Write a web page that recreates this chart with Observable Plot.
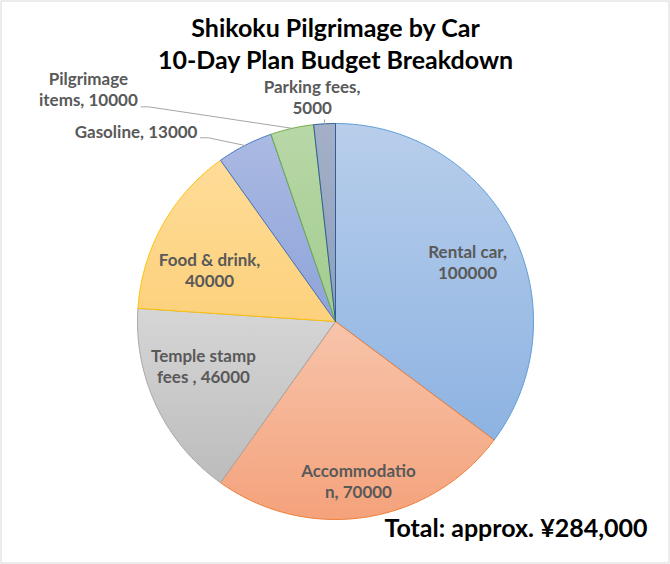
<!DOCTYPE html>
<html>
<head>
<meta charset="utf-8">
<script src="https://cdn.jsdelivr.net/npm/d3@7"></script>
<script src="https://cdn.jsdelivr.net/npm/@observablehq/plot@0.6"></script>
<style>
  html, body { margin: 0; padding: 0; background: #fff; }
  #chart svg { display: block; }
</style>
</head>
<body>
<div id="chart"></div>
<script>
// ---- data ----
const categories = ["Rental car", "Accommodation", "Temple stamp fees ", "Food & drink", "Gasoline", "Pilgrimage items", "Parking fees"];
const values = [100000, 70000, 46000, 40000, 13000, 10000, 5000];
const titleLines = ["Shikoku Pilgrimage by Car", "10-Day Plan Budget Breakdown"];
const totalText = "Total: approx. ¥284,000";

// ---- styles ----
const strokeColors = ["#5b9bd5", "#ed7d31", "#a5a5a5", "#ffc000", "#4472c4", "#70ad47", "#2f5f95"];
const gradTop =      ["#b8ceeb", "#f7c4ab", "#d6d6d6", "#fedc98", "#abbae3", "#b8d8a7", "#a4b0c8"];
const gradBottom =   ["#8db3e2", "#f4a27b", "#bcbcbc", "#fdd17c", "#8ea3d9", "#a3cb8f", "#8d9ebd"];
const breakAt =      [11, 12, 12, 13, null, 10, 13];
// label anchors (last-line baseline) in pie units (radius = 1)
const labelLayout = [
  {x: 0.667, y: -0.217, anchor: "middle"},
  {x: 0.116, y: 0.889, anchor: "middle"},
  {x: -0.667, y: 0.313, anchor: "middle"},
  {x: -0.636, y: -0.173, anchor: "middle"},
  {x: -0.697, y: -0.928, anchor: "end", leader: "elbow"},
  {x: -1.248, y: -1.086, anchor: "middle", leader: "elbow", leaderStart: [-0.982, -1.084]},
  {x: -0.118, y: -1.049, anchor: "middle", leader: "tick"}
];

const cx = 335, cy = 321, R = 198;
const font = "Lato, 'Open Sans', sans-serif";

const data = categories.map((c, i) => ({name: c, value: values[i], i}));
const arcs = d3.pie().sort(null).value(d => d.value).startAngle(0).endAngle(2 * Math.PI)(data);

function wrap(s, k) {
  if (k == null) return s;
  return s.slice(0, k).trimEnd() + "\n" + s.slice(k).trimStart();
}

const sliceMarks = arcs.map((a, i) => {
  const n = Math.max(2, Math.ceil((a.endAngle - a.startAngle) / (Math.PI / 360)));
  const pts = [{x: 0, y: 0}];
  for (let j = 0; j <= n; j++) {
    const t = a.startAngle + (a.endAngle - a.startAngle) * j / n;
    pts.push({x: Math.sin(t), y: -Math.cos(t)});
  }
  pts.push({x: 0, y: 0});
  return Plot.line(pts, {x: "x", y: "y", fill: `url(#grad${i})`, stroke: strokeColors[i], strokeWidth: 1, strokeLinejoin: "round"});
});

const labels = arcs.map((a, i) => ({
  text: wrap(`${a.data.name}, ${a.data.value}`, breakAt[i]),
  x: labelLayout[i].x, y: labelLayout[i].y, anchor: labelLayout[i].anchor
}));

// leader lines
const leaders = [];
arcs.forEach((a, i) => {
  const L = labelLayout[i];
  if (!L.leader) return;
  const mid = (a.startAngle + a.endAngle) / 2;
  const edge = {x: Math.sin(mid), y: -Math.cos(mid)};
  if (L.leader === "tick") {
    leaders.push({k: i, x: edge.x, y: edge.y - 0.02});
    leaders.push({k: i, x: edge.x, y: edge.y});
  } else {
    const sx = L.leaderStart ? L.leaderStart[0] : L.x + 0.015;
    const sy = L.leaderStart ? L.leaderStart[1] : L.y;
    leaders.push({k: i, x: sx, y: sy});
    leaders.push({k: i, x: sx + 0.04, y: sy});
    leaders.push({k: i, x: edge.x, y: edge.y});
  }
});

const textMarks = ["middle", "end"].map(anc => Plot.text(labels.filter(d => d.anchor === anc), {
  x: "x", y: "y", text: "text", textAnchor: anc, lineAnchor: "bottom", lineHeight: 1.235,
  fontSize: 17, fontWeight: "bold", fill: "#595959", fontFamily: font
}));

const svg = Plot.plot({
  width: 670,
  height: 564,
  margin: 0,
  style: {background: "#fff", fontFamily: font},
  x: {domain: [-1, 1], range: [cx - R, cx + R], axis: null},
  y: {domain: [-1, 1], range: [cy - R, cy + R], axis: null},
  marks: [
    Plot.frame({stroke: "#d9d9d9", insetLeft: 0.5, insetTop: 0.5, insetRight: 1.5, insetBottom: 1.5}),
    ...sliceMarks,
    Plot.line(leaders, {x: "x", y: "y", z: "k", stroke: "#a6a6a6", strokeWidth: 1}),
    ...textMarks,
    Plot.text([titleLines.join("\n")], {
      frameAnchor: "top", dy: 68.3, lineAnchor: "bottom", lineHeight: 1.264,
      text: d => d, fontSize: 25, fontWeight: "bold", fill: "#000", fontFamily: font
    }),
    Plot.text([totalText], {
      frameAnchor: "bottom-right", dx: -23, dy: -27.3, textAnchor: "end", lineAnchor: "bottom",
      text: d => d, fontSize: 25, fontWeight: "bold", fill: "#000", fontFamily: font
    })
  ]
});

const defs = d3.select(svg).insert("defs", ":first-child");
arcs.forEach((a, i) => {
  const g = defs.append("linearGradient").attr("id", `grad${i}`)
    .attr("x1", 0).attr("y1", 0).attr("x2", 0).attr("y2", 1);
  g.append("stop").attr("offset", "0%").attr("stop-color", gradTop[i]);
  g.append("stop").attr("offset", "100%").attr("stop-color", gradBottom[i]);
});

document.getElementById("chart").appendChild(svg);
</script>
</body>
</html>
